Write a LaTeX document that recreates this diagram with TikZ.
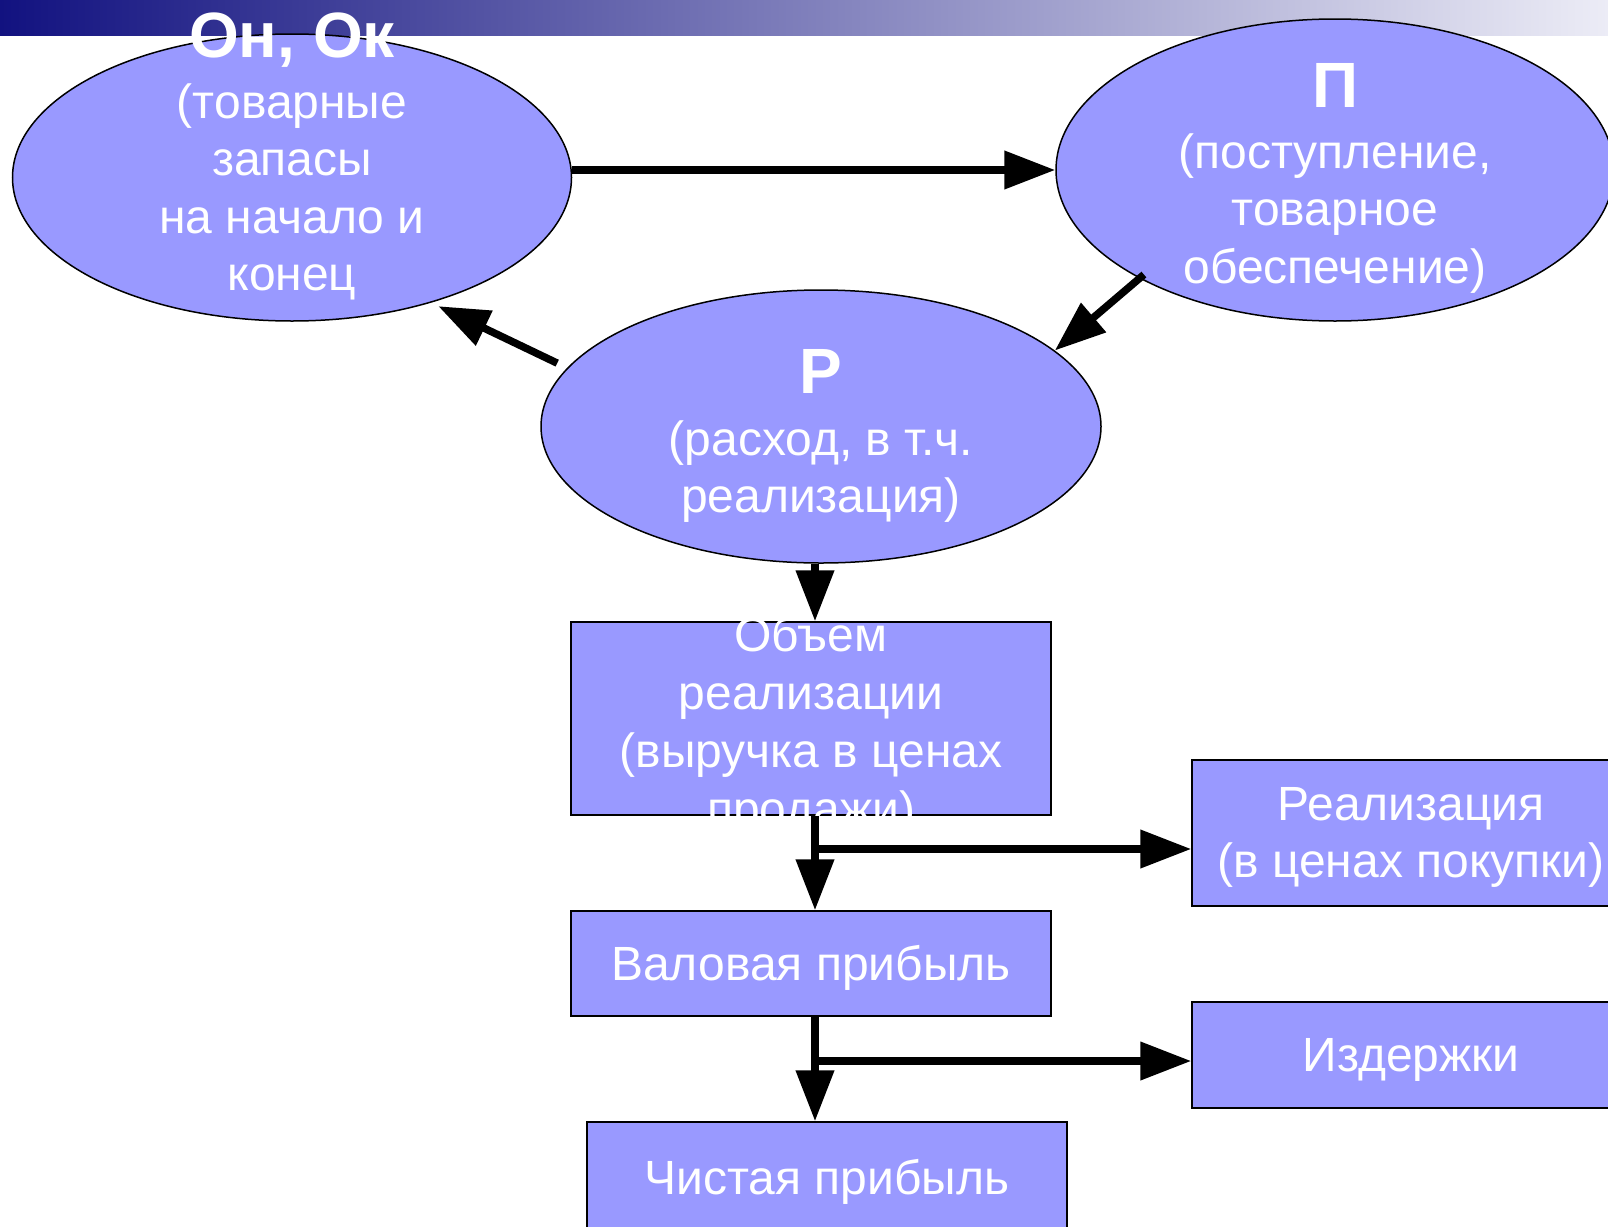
\documentclass[tikz,border=0pt]{standalone}
\usepackage{fontspec}
\setmainfont{Liberation Sans}
\usetikzlibrary{shapes.geometric,arrows.meta}
\definecolor{shapefill}{HTML}{9999FF}
\definecolor{bandleft}{RGB}{18,18,128}
\definecolor{bandright}{RGB}{236,236,246}
\begin{document}
\begin{tikzpicture}[x=1pt,y=-1pt,
  oval/.style={ellipse,draw=black,line width=1.5pt,fill=shapefill,inner sep=0pt},
  box/.style={rectangle,draw=black,line width=1.5pt,fill=shapefill,inner sep=0pt,text=white,font=\fontsize{48}{57.5}\selectfont,align=center,text depth=1pt},
  bodytext/.style={text=white,font=\fontsize{48}{57.5}\selectfont,align=center,inner sep=0pt,anchor=base},
  titletext/.style={text=white,font=\fontsize{64}{70}\selectfont\bfseries,inner sep=0pt,anchor=base},
  arr/.style={line width=7.5pt,-{Triangle[length=51pt,width=37pt]}}
]
\useasboundingbox (0,0) rectangle (1608,1226);
\shade[left color=bandleft,right color=bandright] (0,0) rectangle (1608,35);

% shapes
\node[oval,minimum width=559pt,minimum height=287pt] (o) at (292,177.5) {};
\node[oval,minimum width=558pt,minimum height=302pt] (p) at (1335,170) {};
\node[oval,minimum width=560pt,minimum height=273pt] (r) at (821,426.5) {};
\node[box,minimum width=480pt,minimum height=193pt] (obj) at (811,718.5) {};
\node[box,minimum width=480pt,minimum height=105pt] (val) at (811,963.5) {Валовая прибыль};
\node[box,minimum width=480pt,minimum height=110pt] (net) at (827,1177) {Чистая прибыль};
\node[box,minimum width=438pt,minimum height=146pt] (real) at (1411,833) {Реализация\\(в ценах покупки)};
\node[box,minimum width=438pt,minimum height=106pt] (cost) at (1411,1055) {Издержки};

% texts (base anchor = baseline of the last line)
\node[titletext] (o-title) at (292,57) {Он, Ок};
\node[bodytext] (o-text) at (292,290.5) {(товарные\\запасы\\на начало и\\конец};
\node[titletext] (p-title) at (1335,107) {П};
\node[bodytext] (p-text) at (1335,283) {(поступление,\\товарное\\обеспечение)};
\node[titletext] (r-title) at (821,393) {Р};
\node[bodytext] (r-text) at (821,512.5) {(расход, в т.ч.\\реализация)};
\node[bodytext,font=\fontsize{48}{58}\selectfont] (obj-text) at (811,825) {Объем\\реализации\\(выручка в ценах\\продажи)};

% connectors
\coordinate (vx) at (815,0);
\draw[arr] (o.east |- p.west) -- (p.west);
\draw[arr,shorten <=-6pt] (p.209) -- (r.18);
\draw[arr,shorten <=11pt,shorten >=8pt] (r.167) -- (o.318);
\draw[arr] (r.south -| vx) -- (obj.north -| vx);
\draw[arr] (obj.south -| vx) -- (val.north -| vx);
\coordinate (b1) at (815,849);
\draw[arr] (b1) -- (b1 -| real.west);
\draw[arr] (val.south -| vx) -- (net.north -| vx);
\coordinate (b2) at (815,1061);
\draw[arr] (b2) -- (b2 -| cost.west);
\end{tikzpicture}
\end{document}
